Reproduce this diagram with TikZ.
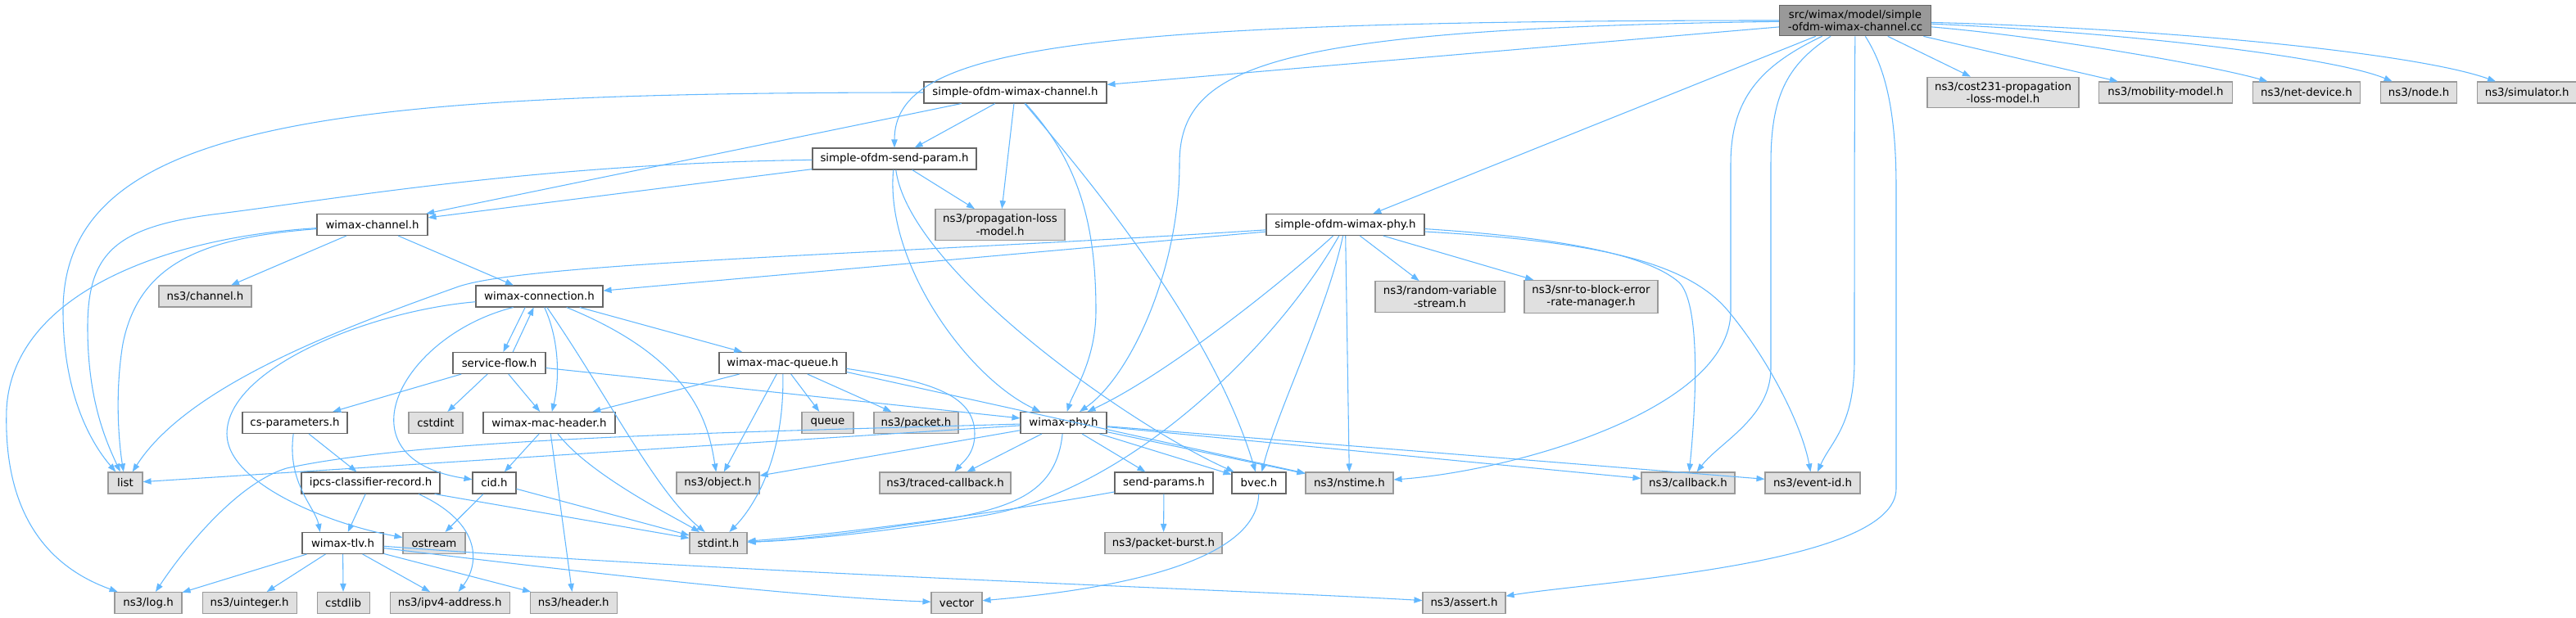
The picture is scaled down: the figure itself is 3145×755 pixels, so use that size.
\documentclass[tikz,border=0pt]{standalone}
\usepackage{fontspec}
\setmainfont{DejaVu Sans}
\usetikzlibrary{arrows.meta,positioning}

\definecolor{incblue}{HTML}{63B8FF}
\definecolor{extfill}{HTML}{E0E0E0}

\tikzset{
    hdr/.style={draw=black!60, fill=white, line width=0.8pt, font=\fontsize{10}{11.5}\selectfont,
        inner xsep=2pt, inner ysep=4.5pt, minimum height=19.5pt, align=center},
    sys/.style={hdr, draw=black!40, fill=extfill},
    src/.style={hdr, draw=black!60, fill=black!40},
    wd/.style={minimum width=#1*0.75pt},
    inc/.style={draw=incblue, line width=0.8pt, -{Triangle[length=7.5pt,width=5.5pt]}},
}

\begin{document}
\begin{tikzpicture}[x=0.75pt, y=-0.75pt, node distance=18pt]
    \useasboundingbox (0,0) rectangle (3145,755);

    % row 0 and 1
    \node[src, wd=185] (root) at (2265,25) {src/wimax/model/simple\\-ofdm-wimax-channel.cc};
    \node[sys, wd=185] (cost) at (2445.5,113) {ns3/cost231-propagation\\-loss-model.h};
    \node[sys, wd=163, right=17.5pt of cost] (mobility) {ns3/mobility-model.h};
    \node[sys, wd=131, right=of mobility] (netdev) {ns3/net-device.h};
    \node[sys, wd=93, right=of netdev] (nsnode) {ns3/node.h};
    \node[sys, wd=121, right=of nsnode] (simulator) {ns3/simulator.h};
    \node[hdr, wd=223] (chan) at (1239.5,113) {simple-ofdm-wimax-channel.h};

    \node[hdr, wd=200] (sendparam) at (1092,194) {simple-ofdm-send-param.h};
    \node[sys, wd=158] (proploss) at (1221,274.5) {ns3/propagation-loss\\-model.h};
    \node[hdr, wd=135] (wchan) at (454.5,274.5) {wimax-channel.h};
    \node[hdr, wd=193] (ofdmphy) at (1642.5,274.5) {simple-ofdm-wimax-phy.h};

    \node[sys, wd=113] (channel) at (250.5,362) {ns3/channel.h};
    \node[hdr, wd=155] (conn) at (658.5,362) {wimax-connection.h};
    \node[sys, wd=158] (rvs) at (1758,362.5) {ns3/random-variable\\-stream.h};
    \node[sys, wd=163] (snr) at (1942.5,362.5) {ns3/snr-to-block-error\\-rate-manager.h};

    \node[hdr, wd=113] (sflow) at (609.5,443.5) {service-flow.h};
    \node[hdr, wd=155] (macq) at (955.5,443.5) {wimax-mac-queue.h};

    \node[hdr, wd=128] (csparam) at (360,516.5) {cs-parameters.h};
    \node[sys, wd=66] (cstdint) at (532,516.5) {cstdint};
    \node[hdr, wd=161] (machdr) at (670.5,516.5) {wimax-mac-header.h};
    \node[sys, wd=63] (queue) at (1010.5,516.5) {queue};
    \node[sys, wd=103] (packet) at (1118.5,516.5) {ns3/packet.h};
    \node[hdr, wd=105] (phy) at (1298.5,516.5) {wimax-phy.h};

    \node[sys, wd=42] (list) at (153,590) {list};
    \node[hdr, wd=169] (ipcs) at (452.5,590) {ipcs-classifier-record.h};
    \node[hdr, wd=53] (cid) at (603.5,590) {cid.h};
    \node[sys, wd=101] (object) at (876.5,590) {ns3/object.h};
    \node[sys, wd=160] (traced) at (1154,590) {ns3/traced-callback.h};
    \node[hdr, wd=120] (sendparams) at (1421,590) {send-params.h};
    \node[hdr, wd=66] (bvec) at (1537,590) {bvec.h};
    \node[sys, wd=107] (nstime) at (1647.5,590) {ns3/nstime.h};
    \node[sys, wd=114] (callback) at (2061,590) {ns3/callback.h};
    \node[sys, wd=116] (eventid) at (2213,590) {ns3/event-id.h};

    \node[hdr, wd=99] (tlv) at (418.5,663.5) {wimax-tlv.h};
    \node[sys, wd=76] (ostream) at (530,663.5) {ostream};
    \node[sys, wd=70] (stdint) at (877,663.5) {stdint.h};
    \node[sys, wd=143] (burst) at (1420.5,663.5) {ns3/packet-burst.h};

    \node[sys, wd=82] (log) at (181,736.5) {ns3/log.h};
    \node[sys, wd=115, right=of log] (uint) {ns3/uinteger.h};
    \node[sys, wd=64, right=of uint] (cstdlib) {cstdlib};
    \node[sys, wd=146, right=of cstdlib] (ipv4) {ns3/ipv4-address.h};
    \node[sys, wd=106, right=of ipv4] (header) {ns3/header.h};
    \node[sys, wd=62] (vector) at (1168,736.5) {vector};
    \node[sys, wd=101] (assert) at (1787.5,736.5) {ns3/assert.h};

    % root includes
    \draw[inc] (root) -- (chan);
    \draw[inc] (root) .. controls (1300,25) and (1092,60) .. (sendparam);
    \draw[inc] (root) .. controls (1550,35) and (1440,80) .. (1440,200)
        .. controls (1440,330) and (1380,460) .. (phy);
    \draw[inc] (root) -- (ofdmphy);
    \draw[inc] (root) .. controls (2150,80) and (2113,120) .. (2113,200) -- (2113,380)
        .. controls (2113,500) and (1850,575) .. (nstime);
    \draw[inc] (root) .. controls (2180,80) and (2162,120) .. (2162,200) -- (2162,450)
        .. controls (2162,510) and (2100,540) .. (callback);
    \draw[inc] (root) .. controls (2264,150) and (2264,300) .. (2264,440)
        .. controls (2264,520) and (2235,540) .. (eventid);
    \draw[inc] (root) .. controls (2300,80) and (2315,130) .. (2315,230) -- (2315,597)
        .. controls (2315,690) and (1950,710) .. (assert);
    \draw[inc] (root) -- (cost);
    \draw[inc] (root) -- (mobility);
    \draw[inc] (root) .. controls (2500,45) and (2700,80) .. (netdev);
    \draw[inc] (root) .. controls (2600,40) and (2850,70) .. (nsnode);
    \draw[inc] (root) .. controls (2650,35) and (2950,65) .. (simulator);

    % simple-ofdm-wimax-channel.h
    \draw[inc] (chan) .. controls (400,113) and (77,150) .. (77,380)
        .. controls (77,480) and (110,540) .. (list);
    \draw[inc] (chan) -- (wchan);
    \draw[inc] (chan) -- (sendparam);
    \draw[inc] (chan) -- (proploss);
    \draw[inc] (chan) .. controls (1320,200) and (1338,280) .. (1338,380)
        .. controls (1338,440) and (1310,480) .. (phy);
    \draw[inc] (chan) .. controls (1330,220) and (1480,400) .. (bvec);

    % simple-ofdm-send-param.h
    \draw[inc] (sendparam) .. controls (650,200) and (400,245) .. (260,262)
        .. controls (140,278) and (107,310) .. (107,400)
        .. controls (107,490) and (130,540) .. (list);
    \draw[inc] (sendparam) -- (wchan);
    \draw[inc] (sendparam) -- (proploss);
    \draw[inc] (sendparam) .. controls (1080,320) and (1180,460) .. (phy);
    \draw[inc] (sendparam) .. controls (1110,330) and (1380,520) .. (bvec);

    % wimax-channel.h
    \draw[inc] (wchan) -- (channel);
    \draw[inc] (wchan) -- (conn);
    \draw[inc] (wchan) .. controls (250,290) and (170,320) .. (150,420)
        .. controls (140,480) and (145,540) .. (list);
    \draw[inc] (wchan) .. controls (200,290) and (15,360) .. (8,500)
        .. controls (3,650) and (80,700) .. (log);

    % wimax-connection.h
    \draw[inc] (conn.218) -- (sflow.70);
    \draw[inc] (sflow.39) -- (conn.243);
    \draw[inc] (conn) .. controls (685,420) and (682,470) .. (machdr);
    \draw[inc] (conn) .. controls (740,480) and (800,600) .. (stdint);
    \draw[inc] (conn) .. controls (850,440) and (865,520) .. (object);
    \draw[inc] (conn) -- (macq);
    \draw[inc] (conn.203) .. controls (490,410) and (410,560) .. (cid);
    \draw[inc] (conn) .. controls (450,380) and (277,450) .. (277,530)
        .. controls (277,590) and (400,640) .. (ostream);

    % service-flow.h
    \draw[inc] (sflow) -- (csparam);
    \draw[inc] (sflow) -- (cstdint);
    \draw[inc] (sflow) -- (machdr);
    \draw[inc] (sflow) -- (phy);

    % wimax-mac-queue.h
    \draw[inc] (macq) -- (machdr);
    \draw[inc] (macq) -- (object);
    \draw[inc] (macq) .. controls (958,560) and (920,620) .. (stdint);
    \draw[inc] (macq) -- (queue);
    \draw[inc] (macq) -- (packet);
    \draw[inc] (macq.-8) -- (nstime);
    \draw[inc] (macq.-5) .. controls (1130,465) and (1190,480) .. (1190,530)
        .. controls (1190,555) and (1175,565) .. (traced);

    % cs-parameters.h, wimax-mac-header.h
    \draw[inc] (csparam) .. controls (350,590) and (385,620) .. (tlv.154);
    \draw[inc] (csparam) -- (ipcs);
    \draw[inc] (machdr) -- (cid);
    \draw[inc] (machdr) .. controls (720,580) and (820,630) .. (stdint);
    \draw[inc] (machdr) -- (header);

    % ipcs-classifier-record.h, cid.h
    \draw[inc] (ipcs) -- (tlv);
    \draw[inc] (ipcs) -- (stdint);
    \draw[inc] (ipcs.-13) .. controls (590,640) and (585,690) .. (ipv4);
    \draw[inc] (cid) -- (ostream);
    \draw[inc] (cid) -- (stdint);

    % wimax-phy.h
    \draw[inc] (phy) -- (list);
    \draw[inc] (phy) .. controls (900,528) and (520,535) .. (350,572)
        .. controls (290,590) and (225,670) .. (log);
    \draw[inc] (phy) -- (object);
    \draw[inc] (phy) .. controls (1290,600) and (1240,620) .. (1150,635)
        .. controls (1050,650) and (970,660) .. (stdint);
    \draw[inc] (phy) -- (traced);
    \draw[inc] (phy) -- (sendparams);
    \draw[inc] (phy) -- (bvec);
    \draw[inc] (phy) -- (nstime);
    \draw[inc] (phy) -- (callback);
    \draw[inc] (phy) -- (eventid);

    % simple-ofdm-wimax-phy.h
    \draw[inc] (ofdmphy) .. controls (1100,310) and (650,320) .. (560,350)
        .. controls (420,400) and (230,470) .. (list);
    \draw[inc] (ofdmphy) -- (conn);
    \draw[inc] (ofdmphy) .. controls (1560,350) and (1420,460) .. (phy);
    \draw[inc] (ofdmphy) .. controls (1560,420) and (1380,600) .. (1200,630)
        .. controls (1080,650) and (980,660) .. (stdint);
    \draw[inc] (ofdmphy) .. controls (1620,380) and (1560,500) .. (bvec);
    \draw[inc] (ofdmphy) -- (nstime);
    \draw[inc] (ofdmphy) -- (rvs);
    \draw[inc] (ofdmphy) -- (snr);
    \draw[inc] (ofdmphy.-3) .. controls (1900,290) and (2010,310) .. (2050,345)
        .. controls (2075,370) and (2072,480) .. (callback);
    \draw[inc] (ofdmphy.-5) .. controls (1950,295) and (2060,320) .. (2110,380)
        .. controls (2160,440) and (2200,520) .. (eventid);

    % wimax-tlv.h
    \draw[inc] (tlv) -- (log);
    \draw[inc] (tlv) -- (uint);
    \draw[inc] (tlv) -- (cstdlib);
    \draw[inc] (tlv) -- (ipv4);
    \draw[inc] (tlv) -- (header);
    \draw[inc] (tlv) .. controls (900,700) and (1500,720) .. (assert);
    \draw[inc] (tlv) .. controls (800,710) and (1000,730) .. (vector);

    % bvec.h, send-params.h
    \draw[inc] (bvec) .. controls (1535,700) and (1300,725) .. (vector);
    \draw[inc] (sendparams) -- (burst);
    \draw[inc] (sendparams) .. controls (1200,630) and (1000,655) .. (stdint);
\end{tikzpicture}
\end{document}
